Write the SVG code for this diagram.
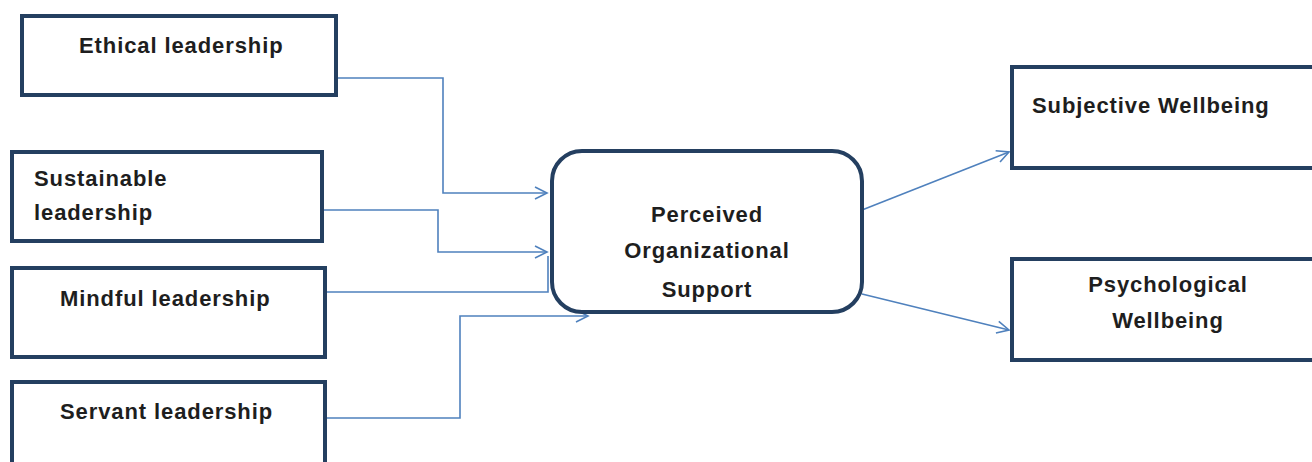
<svg xmlns="http://www.w3.org/2000/svg" width="1312" height="462" viewBox="0 0 1312 462">
<style>
.box{fill:#fff;stroke:#243f60;stroke-width:4}
.t{font-family:"Liberation Sans",Arial,sans-serif;font-weight:bold;font-size:22px;fill:#1e1e1e;letter-spacing:0.9px}
.c{fill:none;stroke:#4f81bd;stroke-width:1.6}
</style>
<defs>
<marker id="ah" markerUnits="userSpaceOnUse" markerWidth="16" markerHeight="16" viewBox="0 0 16 16" refX="14" refY="8" orient="auto">
<path d="M2,2 L14,8 L2,14" fill="none" stroke="#4f81bd" stroke-width="1.6"/>
</marker>
</defs>
<rect width="1312" height="462" fill="#fff"/>
<g id="connectors">
<polyline class="c" points="336,78 443,78 443,193 547,193" marker-end="url(#ah)"/>
<polyline class="c" points="322,210 438,210 438,252 547,252" marker-end="url(#ah)"/>
<polyline class="c" points="325,292 548,292 548,256"/>
<polyline class="c" points="325,418 460,418 460,316 588,316" marker-end="url(#ah)"/>
<line class="c" x1="862" y1="210" x2="1009" y2="152" marker-end="url(#ah)"/>
<line class="c" x1="862" y1="294" x2="1009" y2="330" marker-end="url(#ah)"/>
</g>
<g id="ethical">
<rect class="box" x="22" y="16" width="314" height="79"/>
<text class="t" x="79" y="53">Ethical leadership</text>
</g>
<g id="sustainable">
<rect class="box" x="12" y="152" width="310" height="89"/>
<text class="t" x="34" y="186">Sustainable</text>
<text class="t" x="34" y="220">leadership</text>
</g>
<g id="mindful">
<rect class="box" x="12" y="268" width="313" height="89"/>
<text class="t" x="60" y="306">Mindful leadership</text>
</g>
<g id="servant">
<rect class="box" x="12" y="382" width="313" height="90"/>
<text class="t" x="60" y="419">Servant leadership</text>
</g>
<g id="pos">
<rect class="box" x="552" y="151" width="310" height="161" rx="30" ry="30"/>
<text class="t" x="707" y="222" text-anchor="middle">Perceived</text>
<text class="t" x="707" y="258" text-anchor="middle">Organizational</text>
<text class="t" x="707" y="297" text-anchor="middle">Support</text>
</g>
<g id="subjective">
<rect class="box" x="1012" y="67" width="310" height="101"/>
<text class="t" x="1032" y="113">Subjective Wellbeing</text>
</g>
<g id="psychological">
<rect class="box" x="1012" y="259" width="310" height="101"/>
<text class="t" x="1168" y="292" text-anchor="middle">Psychological</text>
<text class="t" x="1168" y="328" text-anchor="middle">Wellbeing</text>
</g>
</svg>
